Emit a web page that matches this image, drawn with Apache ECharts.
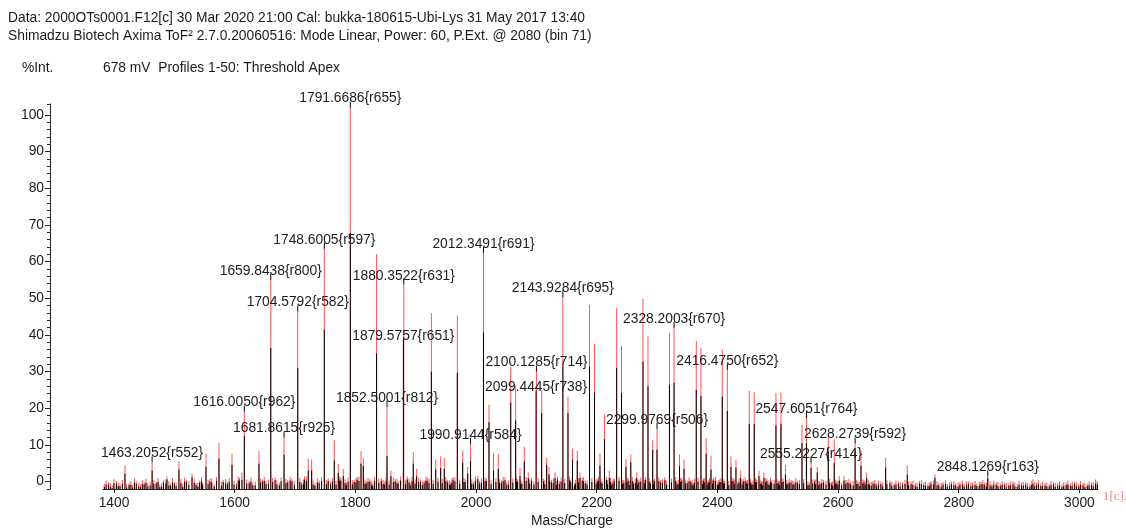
<!DOCTYPE html>
<html>
<head>
<meta charset="utf-8">
<script src="https://cdn.jsdelivr.net/npm/echarts@6/dist/echarts.min.js"></script>
<style>
  html, body { margin: 0; padding: 0; background: #fff; }
  #chart { width: 1126px; height: 529px; }
</style>
</head>
<body>
<div id="chart"></div>
<script>
// ---- Spectrum peaks: m/z, intensity of the red trace, intensity of the black trace (%Int) ----
const peakMz = [
  1418.2, 1463.2052, 1487.8, 1507.7, 1529.3, 1552.5, 1574.0, 1595.6, 1612.1, 1616.0050,
  1640.3, 1659.8438, 1681.8615, 1704.5792, 1722.0, 1727.6, 1748.6005, 1765.1, 1771.7, 1780.0,
  1791.6686, 1809.4, 1813.2, 1835.2, 1852.5001, 1859.0, 1879.5757, 1880.3522, 1896.0, 1901.6,
  1926.0, 1933.2, 1941.4, 1947.4, 1969.0, 1977.9, 1986.2, 1990.9144, 2012.3491, 2021.5,
  2029.0, 2036.9, 2057.5, 2065.7, 2072.9, 2080.0, 2086.6, 2099.4445, 2100.1285, 2108.8,
  2117.1, 2120.9, 2130.9, 2143.9284, 2152.4, 2159.9, 2167.8, 2172.3, 2188.1, 2196.4,
  2205.4, 2212.9, 2220.9, 2233.1, 2241.1, 2248.5, 2256.5, 2266.3, 2276.7, 2285.0,
  2292.8, 2299.9769, 2320.6, 2328.2003, 2337.2, 2344.7, 2365.0, 2372.8, 2381.4, 2389.4,
  2408.1, 2416.4750, 2422.5, 2430.8, 2438.6, 2452.8, 2461.1, 2468.9, 2477.2, 2497.1,
  2505.4, 2512.8, 2540.2, 2547.6051, 2555.2227, 2565.5, 2583.8, 2593.7, 2602.0, 2609.8,
  2628.2739, 2638.0, 2647.4, 2678.9, 2714.7, 2760.6, 2848.1269, 2923.0, 3026.9
];
const peakRed = [
  4.4, 5.2, 1.4, 5.5, 2.2, 7.6, 10.6, 7.6, 2.5, 19.1,
  8.3, 55.0, 12.0, 46.4, 6.2, 6.0, 63.5, 11.4, 4.9, 3.5,
  102.0, 8.3, 6.5, 62.0, 20.4, 3.0, null, 53.7, 8.0, 3.5,
  46.0, 6.0, 6.9, 6.5, 45.3, 8.5, 4.0, 10.3, 62.4, 21.0,
  7.8, 7.6, 31.4, 26.2, 3.7, 9.5, 2.5, null, 30.0, 25.0,
  6.5, 4.0, 2.5, 50.3, 23.2, 9.0, 8.4, 2.5, 48.2, 37.6,
  7.6, 18.4, 3.0, 47.3, 37.0, 6.2, 7.4, 2.5, 49.9, 39.6,
  11.3, 14.4, 40.5, 41.9, 7.4, 6.0, 38.4, 36.4, 11.9, 7.0,
  36.0, 30.5, 7.0, 6.0, 3.0, 24.8, 24.5, 3.0, 2.5, 24.2,
  24.4, 4.6, 15.5, 17.4, 5.0, 4.0, 12.3, 11.6, 1.5, 1.5,
  10.4, 8.5, 2.5, 6.5, 4.4, 2.0, 1.4, 0.6, 0.6
];
const peakBlack = [
  2.2, 3.0, 0.6, 3.3, 1.2, 4.1, 6.3, 4.6, 0.5, 12.5,
  4.9, 36.5, 7.4, 31.0, 3.0, 3.0, 41.5, 5.8, 2.4, 1.5,
  67.8, 4.9, 4.3, 35.0, 7.0, 1.5, 37.3, null, 4.9, 1.5,
  30.0, 3.3, 3.7, 3.5, 29.7, 5.2, 2.2, 5.6, 40.7, 16.2,
  3.0, 3.5, 21.6, 16.7, 1.5, 5.5, 1.0, 23.2, null, 18.7,
  4.6, 2.0, 1.0, 31.4, 18.7, 6.0, 5.7, 1.0, 31.4, 24.3,
  4.4, 11.6, 1.0, 31.0, 24.2, 4.0, 5.3, 1.0, 32.8, 26.0,
  8.7, 8.7, 26.4, 27.0, 4.2, 3.5, 25.0, 23.4, 7.6, 3.3,
  23.2, 19.3, 4.0, 3.8, 1.0, 15.7, 15.7, 1.5, 1.0, 15.3,
  15.8, 2.0, 10.5, 10.5, 3.8, 2.5, 8.3, 5.1, 0.3, 0.3,
  8.3, 4.4, 1.0, 3.8, 1.9, 1.0, 1.0, -0.5, -0.5
];

// ---- Baseline noise, first pass ----
const noiseMz = [
  1384, 1391, 1397, 1404, 1410, 1425, 1431, 1437, 1444, 1450,
  1456, 1470, 1476, 1482, 1494, 1500, 1514, 1520, 1536, 1542,
  1547, 1559, 1566, 1581, 1588, 1603, 1608, 1624, 1630, 1646,
  1652, 1667, 1674, 1688, 1695, 1711, 1716, 1733, 1740, 1755,
  1759, 1776, 1785, 1798, 1803, 1818, 1824, 1829, 1843, 1848,
  1866, 1871, 1886, 1891, 1908, 1914, 1919, 1953, 1958, 1962,
  1982, 1996, 2003, 2006, 2017, 2042, 2048, 2051, 2069, 2076,
  2092, 2096, 2112, 2125, 2135, 2138, 2157, 2163, 2176, 2181,
  2201, 2209, 2216, 2225, 2229, 2245, 2252, 2261, 2270, 2281,
  2289, 2296, 2306, 2313, 2333, 2341, 2350, 2356, 2360, 2377,
  2385, 2394, 2400, 2404, 2412, 2426, 2434, 2443, 2448, 2457,
  2465, 2473, 2482, 2486, 2490, 2501, 2509, 2517, 2522, 2527,
  2533, 2552, 2561, 2570, 2576, 2589, 2598, 2606, 2615, 2621,
  2633, 2643, 2652, 2658, 2664, 2671, 2686, 2693, 2700, 2707,
  2721, 2728, 2735, 2742, 2749, 2754, 2767, 2774, 2781, 2788,
  2795, 2802, 2809, 2816, 2823, 2830, 2837, 2843, 2855, 2862,
  2869, 2876, 2883, 2890, 2897, 2904, 2911, 2918, 2929, 2936,
  2943, 2950, 2957, 2964, 2971, 2978, 2985, 2992, 2999, 3006,
  3013, 3020, 3030
];
const noiseRed = [
  -0.6, -0.2, -0.9, 0.2, -0.5, -0.3, -0.8, 0.0, -0.7, -0.1,
  -0.5, 0.1, -0.8, 0.4, -0.4, -0.1, -0.7, 0.6, -0.3, 0.3,
  -0.2, 0.8, -0.6, 0.5, 0.0, -0.4, 1.0, 0.2, -0.3, 0.6,
  0.1, 1.2, -0.3, 0.4, 0.8, -0.1, 1.5, -0.4, 0.3, 0.9,
  0.0, 1.1, -0.2, 0.5, 1.3, 0.2, 0.7, -0.4, 1.0, -0.1,
  0.8, 0.1, 1.4, -0.3, 0.6, 0.3, 1.1, 0.5, -0.2, 1.2,
  0.6, 0.0, 1.5, 0.2, 0.9, 0.4, 1.2, -0.2, 0.7, 0.1,
  1.0, -0.1, 0.8, 0.5, 1.4, 0.1, 0.6, -0.3, 1.1, 0.3,
  0.7, 0.2, 1.3, -0.2, 0.9, 0.4, 1.1, 0.0, 0.6, 1.2,
  0.1, 0.8, 0.5, 1.2, -0.1, 1.0, 0.3, 0.6, -0.3, 0.9,
  0.4, 1.1, -0.2, 0.6, 0.2, 1.0, 0.0, 0.7, 0.3, -0.1,
  0.6, 0.1, 0.9, -0.3, 0.4, 0.2, 0.8, -0.1, 0.5, 0.0,
  0.3, -0.2, 0.6, 0.1, 0.5, -0.1, 0.2, -0.3, 0.4, 0.0,
  0.1, 0.5, -0.2, 0.2, -0.4, 0.0, 0.3, -0.3, 0.1, -0.1,
  0.0, -0.4, 0.2, -0.2, -0.5, 0.1, -0.3, -0.1, -0.6, 0.0,
  -0.4, -0.1, -0.6, 0.1, -0.3, -0.5, 0.0, -0.2, -0.6, -0.1,
  -0.5, -0.2, -0.4, 0.0, -0.7, -0.3, -0.1, -0.6, -0.2, -0.5,
  -0.3, -0.6, -0.1, -0.4, -0.7, -0.2, -0.5, 0.0, -0.6, -0.3,
  -0.5, -0.2, 0.1
];
const noiseBlack = [
  -1.4, -0.8, -1.8, -0.5, -1.2, -0.9, -1.6, -0.6, -1.5, -0.7,
  -1.3, -0.4, -1.5, -0.2, -1.1, -0.6, -1.4, 0.0, -0.9, -0.3,
  -0.8, 0.1, -1.3, -0.1, -0.7, -1.1, 0.3, -0.4, -1.0, 0.0,
  -0.6, 0.4, -1.0, -0.2, 0.1, -0.8, 0.6, -1.1, -0.4, 0.2,
  -0.7, 0.3, -0.9, -0.1, 0.5, -0.5, 0.0, -1.1, 0.2, -0.8,
  0.1, -0.6, 0.6, -1.0, -0.1, -0.4, 0.3, -0.2, -0.9, 0.4,
  -0.1, -0.7, 0.7, -0.5, 0.2, -0.3, 0.4, -0.9, 0.0, -0.6,
  0.2, -0.8, 0.1, -0.2, 0.6, -0.6, -0.1, -1.0, 0.3, -0.4,
  0.0, -0.5, 0.5, -0.9, 0.2, -0.3, 0.3, -0.7, -0.1, 0.4,
  -0.6, 0.1, -0.2, 0.4, -0.8, 0.3, -0.4, -0.1, -1.0, 0.2,
  -0.3, 0.3, -0.9, -0.1, -0.5, 0.2, -0.7, 0.0, -0.4, -0.8,
  -0.1, -0.6, 0.1, -1.0, -0.3, -0.5, 0.0, -0.8, -0.2, -0.7,
  -0.4, -0.9, -0.1, -0.6, -0.2, -0.8, -0.5, -1.0, -0.3, -0.7,
  -0.6, -0.2, -0.9, -0.5, -1.1, -0.7, -0.4, -1.0, -0.6, -0.8,
  -0.7, -1.1, -0.5, -0.9, -1.2, -0.6, -1.0, -0.8, -1.3, -0.7,
  -1.1, -0.8, -1.3, -0.6, -1.0, -1.2, -0.7, -0.9, -1.3, -0.8,
  -1.2, -0.9, -1.1, -0.7, -1.4, -1.0, -0.8, -1.3, -0.9, -1.2,
  -1.0, -1.3, -0.8, -1.1, -1.4, -0.9, -1.2, -0.7, -1.3, -1.0,
  -1.2, -0.9, -0.8
];

// ---- Baseline noise, second pass (between the first-pass points) ----
const noiseMz2 = [
  1387, 1394, 1400, 1407, 1414, 1421, 1428, 1434, 1441, 1447,
  1453, 1460, 1466, 1473, 1479, 1486, 1491, 1497, 1503, 1511,
  1517, 1524, 1533, 1539, 1545, 1556, 1562, 1570, 1578, 1585,
  1591, 1599, 1606, 1620, 1627, 1634, 1643, 1649, 1656, 1663,
  1670, 1677, 1685, 1692, 1699, 1708, 1714, 1719, 1730, 1737,
  1744, 1752, 1762, 1768, 1774, 1783, 1788, 1795, 1801, 1806,
  1816, 1821, 1827, 1832, 1839, 1846, 1851, 1856, 1863, 1869,
  1875, 1883, 1889, 1894, 1899, 1905, 1911, 1917, 1922, 1929,
  1937, 1944, 1950, 1956, 1960, 1965, 1973, 1980, 1993, 1999,
  2009, 2015, 2025, 2033, 2039, 2045, 2054, 2061, 2067, 2074,
  2083, 2089, 2103, 2114, 2122, 2128, 2133, 2141, 2147, 2155,
  2165, 2170, 2178, 2184, 2192, 2199, 2203, 2207, 2218, 2223,
  2227, 2237, 2243, 2250, 2254, 2259, 2264, 2268, 2273, 2279,
  2287, 2294, 2303, 2309, 2316, 2324, 2331, 2335, 2339, 2347,
  2353, 2358, 2362, 2368, 2375, 2379, 2383, 2387, 2392, 2397,
  2402, 2406, 2410, 2419, 2424, 2428, 2436, 2441, 2446, 2450,
  2455, 2459, 2463, 2471, 2475, 2480, 2484, 2488, 2494, 2499,
  2503, 2507, 2515, 2519, 2525, 2530, 2536, 2543, 2550, 2558,
  2563, 2568, 2573, 2580, 2586, 2591, 2596, 2600, 2612, 2618,
  2625, 2631, 2636, 2641, 2645, 2650, 2655, 2661, 2667, 2674,
  2681, 2689, 2696, 2703, 2711, 2717, 2724, 2731, 2738, 2745,
  2752, 2758, 2764, 2771, 2778, 2785, 2792, 2799, 2806, 2813,
  2820, 2827, 2834, 2840, 2846, 2852, 2858, 2865, 2872, 2879,
  2886, 2893, 2900, 2907, 2914, 2921, 2926, 2932, 2939, 2946,
  2953, 2960, 2967, 2974, 2981, 2988, 2995, 3002, 3009, 3016,
  3023, 3027
];
const noiseRed2 = [
  0.3, -0.4, 0.7, -0.2, 0.5, -0.6, 0.2, 0.9, -0.3, 0.4,
  0.8, -0.1, 0.5, 1.0, -0.4, 0.6, 0.1, 0.9, -0.2, 0.7,
  1.1, 0.2, 0.8, -0.3, 1.2, 0.4, 0.9, 1.3, 0.0, 0.7,
  1.0, 0.3, 1.4, 0.6, 1.1, 0.1, 0.8, 1.3, 0.5, 1.0,
  0.4, 1.2, 0.7, 1.4, 0.2, 1.0, 0.6, 1.3, 0.3, 0.9,
  1.2, 0.5, 1.0, 0.3, 1.4, 0.7, 1.1, 0.4, 0.9, 1.3,
  0.6, 1.1, 0.2, 1.3, 0.8, 0.5, 1.2, 0.3, 1.0, 0.7,
  1.4, 0.4, 0.9, 1.2, 0.6, 1.0, 0.2, 1.3, 0.8, 0.5,
  1.1, 0.7, 1.3, 0.3, 0.9, 1.2, 0.5, 1.0, 0.6, 1.4,
  0.8, 1.2, 0.4, 1.0, 0.7, 1.3, 0.3, 0.9, 1.1, 0.5,
  1.3, 0.6, 1.0, 0.4, 1.2, 0.8, 0.2, 1.1, 0.7, 1.4,
  0.5, 0.9, 1.2, 0.3, 1.0, 0.6, 1.3, 0.8, 0.4, 1.1,
  0.7, 1.3, 0.5, 1.0, 0.2, 1.2, 0.8, 0.4, 1.1, 0.6,
  1.0, 0.4, 1.2, 0.7, 0.3, 0.9, 1.3, 0.5, 1.0, 0.6,
  1.2, 0.3, 0.8, 1.1, 0.5, 0.9, 0.2, 1.0, 0.6, 1.3,
  0.4, 1.0, 0.7, 0.2, 1.1, 0.6, 0.9, 0.3, 1.2, 0.5,
  0.8, 0.3, 1.0, 0.6, 0.1, 0.9, 0.4, 1.1, 0.5, 0.7,
  0.2, 0.9, 0.5, 0.8, 0.3, 1.0, 0.4, 0.7, 0.1, 0.6,
  0.5, 0.1, 0.7, 0.3, 0.8, 0.0, 0.6, 0.2, 0.4, 0.7,
  0.1, 0.5, -0.1, 0.6, 0.2, 0.4, 0.0, 0.5, 0.3, -0.2,
  0.4, 0.0, 0.3, -0.2, 0.5, 0.1, 0.2, -0.3, 0.4, 0.0,
  -0.1, 0.3, 0.1, -0.3, 0.4, 0.0, 0.2, -0.2, 0.3, 0.1,
  -0.2, 0.2, 0.0, 0.4, -0.3, 0.1, 0.3, -0.1, 0.2, -0.4,
  0.1, -0.2, 0.3, 0.0, -0.3, 0.2, -0.1, 0.3, 0.0, -0.2,
  0.2, -0.3, 0.1, -0.1, 0.3, 0.0, -0.2, 0.2, -0.4, 0.1,
  -0.1, 0.2
];
const noiseBlack2 = [
  -0.8, -1.4, -0.4, -1.2, -0.6, -1.6, -0.9, -0.2, -1.3, -0.7,
  -0.3, -1.1, -0.6, -0.1, -1.4, -0.5, -1.0, -0.2, -1.2, -0.4,
  0.0, -0.9, -0.3, -1.3, 0.1, -0.7, -0.2, 0.2, -1.1, -0.4,
  -0.1, -0.8, 0.3, -0.5, 0.0, -1.0, -0.3, 0.2, -0.6, -0.1,
  -0.7, 0.1, -0.4, 0.3, -0.9, -0.1, -0.5, 0.2, -0.8, -0.2,
  0.1, -0.6, -0.1, -0.8, 0.3, -0.4, 0.0, -0.7, -0.2, 0.2,
  -0.5, 0.0, -0.9, 0.2, -0.3, -0.6, 0.1, -0.8, -0.1, -0.4,
  0.3, -0.7, -0.2, 0.1, -0.5, -0.1, -0.9, 0.2, -0.3, -0.6,
  0.0, -0.4, 0.2, -0.8, -0.2, 0.1, -0.6, -0.1, -0.5, 0.3,
  -0.3, 0.1, -0.7, -0.1, -0.4, 0.2, -0.8, -0.2, 0.0, -0.6,
  0.2, -0.5, -0.1, -0.7, 0.1, -0.3, -0.9, 0.0, -0.4, 0.3,
  -0.6, -0.2, 0.1, -0.8, -0.1, -0.5, 0.2, -0.3, -0.7, 0.0,
  -0.4, 0.2, -0.6, -0.1, -0.9, 0.1, -0.3, -0.7, 0.0, -0.5,
  -0.1, -0.7, 0.1, -0.4, -0.8, -0.2, 0.2, -0.6, -0.1, -0.5,
  0.1, -0.8, -0.3, 0.0, -0.6, -0.2, -0.9, -0.1, -0.5, 0.2,
  -0.7, -0.1, -0.4, -0.9, 0.0, -0.5, -0.2, -0.8, 0.1, -0.6,
  -0.3, -0.8, -0.1, -0.5, -1.0, -0.2, -0.7, 0.0, -0.6, -0.4,
  -0.9, -0.2, -0.6, -0.3, -0.8, -0.1, -0.7, -0.4, -1.0, -0.5,
  -0.6, -1.0, -0.4, -0.8, -0.3, -1.1, -0.5, -0.9, -0.7, -0.4,
  -1.0, -0.6, -1.2, -0.5, -0.9, -0.7, -1.1, -0.6, -0.8, -1.3,
  -0.7, -1.1, -0.8, -1.3, -0.6, -1.0, -0.9, -1.4, -0.7, -1.1,
  -1.2, -0.8, -1.0, -1.4, -0.7, -1.1, -0.9, -1.3, -0.8, -1.0,
  -1.3, -0.9, -1.1, -0.7, -1.4, -1.0, -0.8, -1.2, -0.9, -1.5,
  -1.0, -1.3, -0.8, -1.1, -1.4, -0.9, -1.2, -0.8, -1.1, -1.3,
  -0.9, -1.4, -1.0, -1.2, -0.8, -1.1, -1.3, -0.9, -1.5, -1.0,
  -1.2, -0.9
];

// ---- Annotated peaks: m/z and resolution ----
const labelMz = [
  1463.2052, 1616.0050, 1659.8438, 1681.8615, 1704.5792, 1748.6005, 1791.6686, 1852.5001,
  1879.5757, 1880.3522, 1990.9144, 2012.3491, 2099.4445, 2100.1285, 2143.9284, 2299.9769,
  2328.2003, 2416.4750, 2547.6051, 2555.2227, 2628.2739, 2848.1269
];
const labelRes = [
  552, 962, 800, 925, 582, 597, 655, 812,
  651, 631, 584, 691, 738, 714, 695, 506,
  670, 652, 764, 414, 592, 163
];

// ---- Axes ----
const xTicks = [1400, 1600, 1800, 2000, 2200, 2400, 2600, 2800, 3000];
const yTicks = [0, 10, 20, 30, 40, 50, 60, 70, 80, 90, 100];
const yMinorTicks = [-2, 2, 4, 6, 8, 12, 14, 16, 18, 22, 24, 26, 28, 32, 34, 36, 38, 42, 44, 46, 48,
  52, 54, 56, 58, 62, 64, 66, 68, 72, 74, 76, 78, 82, 84, 86, 88, 92, 94, 96, 98, 103];
const X_MIN = 1381.8, X_MAX = 3030.8, Y_MIN = -2, Y_MAX = 103;

const FONT = '"Liberation Sans", Arial, sans-serif';
const FONT_SIZE = 13.8;
const TEXT_COLOR = '#1c1c1c';
const RED = '#ff5252';
const BLACK = '#000000';

function sticks(mzList, intList) {
  const out = [];
  for (let i = 0; i < mzList.length; i++) {
    if (intList[i] != null) out.push([mzList[i], intList[i]]);
  }
  return out;
}

// one vertical stick per data point, from the bottom of the axis up to the intensity
function stickRenderer(color) {
  return function (params, api) {
    const top = api.coord([api.value(0), api.value(1)]);
    const base = api.coord([api.value(0), Y_MIN]);
    return {
      type: 'line',
      shape: { x1: top[0], y1: top[1], x2: base[0], y2: base[1] },
      style: { stroke: color, lineWidth: 1 }
    };
  };
}

// apex of each annotated peak, taken from the peak table
const labelData = labelMz.map(function (mz, i) {
  const k = peakMz.indexOf(mz);
  const vals = [peakRed[k], peakBlack[k]].filter(function (v) { return v != null; });
  return [mz, Math.max.apply(null, vals), i];
});

function labelRenderer(params, api) {
  const p = api.coord([api.value(0), api.value(1)]);
  const i = api.value(2);
  const text = labelMz[i].toFixed(4) + '{r' + labelRes[i] + '}';
  return {
    type: 'group',
    children: [
      { type: 'line', shape: { x1: p[0], y1: p[1] - 6, x2: p[0], y2: p[1] }, style: { stroke: BLACK, lineWidth: 1 } },
      { type: 'text', x: p[0], y: p[1] - 2,
        style: { text: text, align: 'center', verticalAlign: 'bottom', font: FONT_SIZE + 'px ' + FONT, fill: TEXT_COLOR } }
    ]
  };
}

const chart = echarts.init(document.getElementById('chart'), null, { renderer: 'canvas' });

const axisLabelStyle = { fontFamily: FONT, fontSize: FONT_SIZE, color: TEXT_COLOR };

function headerText(txt, left, top) {
  return { type: 'text', left: left, top: top,
    style: { text: txt, font: FONT_SIZE + 'px ' + FONT, fill: TEXT_COLOR } };
}

chart.setOption({
  animation: false,
  backgroundColor: '#ffffff',
  grid: { left: 103, right: 28, top: 104, bottom: 40 },
  xAxis: {
    type: 'value', min: X_MIN, max: X_MAX,
    axisLine: { show: true, onZero: false, lineStyle: { color: '#222', width: 1 } },
    axisTick: { show: true, customValues: xTicks, length: 4, lineStyle: { color: '#222' } },
    axisLabel: Object.assign({ customValues: xTicks, margin: 7,
      formatter: function (v) { return String(v); } }, axisLabelStyle),
    splitLine: { show: false }
  },
  yAxis: [
    {
      type: 'value', min: Y_MIN, max: Y_MAX, position: 'left', offset: 53,
      axisLine: { show: true, lineStyle: { color: '#222', width: 1 } },
      axisTick: { show: true, customValues: yTicks, length: 5, lineStyle: { color: '#222' } },
      axisLabel: Object.assign({ customValues: yTicks, margin: 6,
        formatter: function (v) { return String(v); } }, axisLabelStyle),
      splitLine: { show: false }
    },
    {
      type: 'value', min: Y_MIN, max: Y_MAX, position: 'left', offset: 53,
      axisLine: { show: false },
      axisTick: { show: true, customValues: yMinorTicks, length: 3, lineStyle: { color: '#222' } },
      axisLabel: { show: false },
      splitLine: { show: false }
    }
  ],
  graphic: [
    headerText('Data: 2000OTs0001.F12[c] 30 Mar 2020 21:00 Cal: bukka-180615-Ubi-Lys 31 May 2017 13:40', 8, 11),
    headerText('Shimadzu Biotech Axima ToF\u00b2 2.7.0.20060516: Mode Linear, Power: 60, P.Ext. @ 2080 (bin 71)', 8, 29),
    headerText('%Int.', 22, 61),
    headerText('678 mV  Profiles 1-50: Threshold Apex', 103, 61),
    { type: 'text', x: 572, y: 521,
      style: { text: 'Mass/Charge', align: 'center', verticalAlign: 'middle', font: FONT_SIZE + 'px ' + FONT, fill: TEXT_COLOR } },
    { type: 'text', x: 1103, y: 497,
      style: { text: '1[c].', align: 'left', verticalAlign: 'middle', font: '13px "Liberation Serif", serif', fill: '#f08a8a' } }
  ],
  series: [
    { type: 'custom', name: 'noise-red', coordinateSystem: 'cartesian2d', clip: true,
      data: sticks(noiseMz, noiseRed).concat(sticks(noiseMz2, noiseRed2)),
      renderItem: stickRenderer(RED), silent: true, z: 1 },
    { type: 'custom', name: 'red', coordinateSystem: 'cartesian2d', clip: true,
      data: sticks(peakMz, peakRed), renderItem: stickRenderer(RED), silent: true, z: 2 },
    { type: 'custom', name: 'noise-black', coordinateSystem: 'cartesian2d', clip: true,
      data: sticks(noiseMz, noiseBlack).concat(sticks(noiseMz2, noiseBlack2)),
      renderItem: stickRenderer(BLACK), silent: true, z: 3 },
    { type: 'custom', name: 'black', coordinateSystem: 'cartesian2d', clip: true,
      data: sticks(peakMz, peakBlack), renderItem: stickRenderer(BLACK), silent: true, z: 4 },
    { type: 'custom', name: 'labels', coordinateSystem: 'cartesian2d', clip: false,
      data: labelData, renderItem: labelRenderer, silent: true, z: 5 }
  ]
});
</script>
</body>
</html>
